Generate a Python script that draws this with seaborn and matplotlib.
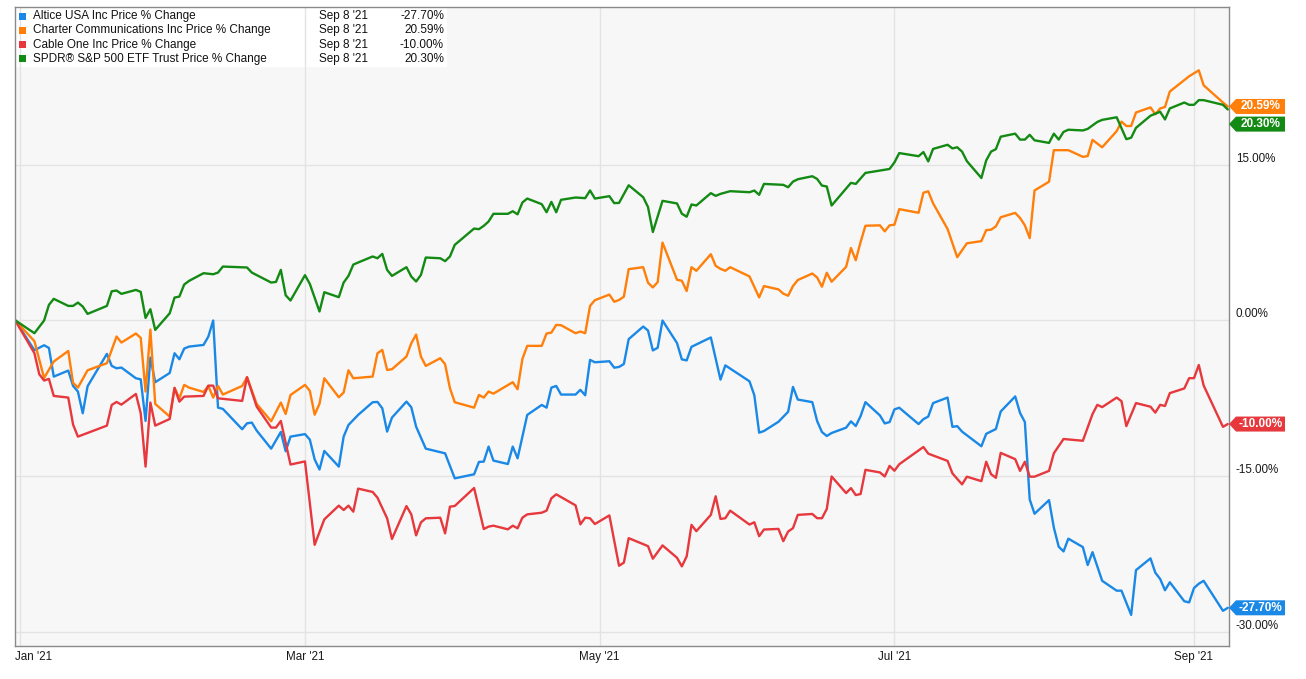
import matplotlib
matplotlib.use("Agg")
import matplotlib.pyplot as plt
import matplotlib.transforms as mtransforms
from matplotlib.patches import Polygon, Rectangle
import pandas as pd
import seaborn as sns

W, H = 1306, 679

names = [
    "Altice USA Inc Price % Change",
    "Charter Communications Inc Price % Change",
    "Cable One Inc Price % Change",
    "SPDR® S&P 500 ETF Trust Price % Change",
]
colors = ["#1a88e6", "#ff7f0a", "#e6383d", "#138a13"]
as_of = "Sep 8 '21"

x_ticks = ["2021-01-01", "2021-03-01", "2021-05-01", "2021-07-01", "2021-09-01"]
x_labels = ["Jan '21", "Mar '21", "May '21", "Jul '21", "Sep '21"]
y_ticks = [-30, -15, 0, 15]

# values, one entry per visible vertex (MM-DD in 2021)
altice_dates = [
    "2020-12-31",
    "01-04", "01-06", "01-07", "01-08", "01-11", "01-12", "01-13", "01-14", "01-15", "01-19", "01-20", "01-21",
    "01-22", "01-25", "01-26", "01-27", "01-28", "01-29",
    "02-01", "02-02", "02-03", "02-04", "02-05", "02-08", "02-09", "02-10", "02-11", "02-12", "02-16", "02-17",
    "02-18", "02-19", "02-22", "02-24", "02-25", "02-26",
    "03-01", "03-02", "03-03", "03-04", "03-05", "03-08", "03-09", "03-10", "03-12", "03-15", "03-16", "03-17",
    "03-18", "03-19", "03-22", "03-23", "03-24", "03-26", "03-30",
    "04-01", "04-05", "04-06", "04-07", "04-08", "04-09", "04-12", "04-13", "04-14", "04-16", "04-19", "04-20",
    "04-21", "04-22", "04-23", "04-26", "04-27", "04-28", "04-29", "04-30",
    "05-03", "05-04", "05-05", "05-06", "05-07", "05-10", "05-11", "05-12", "05-13", "05-14", "05-17", "05-18",
    "05-19", "05-20", "05-24", "05-26", "05-27",
    "06-01", "06-02", "06-03", "06-04", "06-07", "06-09", "06-10", "06-11", "06-14", "06-15", "06-16", "06-17",
    "06-18", "06-21", "06-22", "06-23", "06-24", "06-25", "06-28", "06-29", "06-30",
    "07-01", "07-02", "07-06", "07-07", "07-08", "07-09", "07-12", "07-13", "07-14", "07-15", "07-19", "07-20",
    "07-22", "07-23", "07-26", "07-27", "07-28", "07-29", "07-30",
    "08-02", "08-03", "08-04", "08-05", "08-06", "08-09", "08-10", "08-11", "08-13", "08-16", "08-17", "08-19",
    "08-20", "08-23", "08-24", "08-25", "08-26", "08-27", "08-30", "08-31",
    "09-01", "09-02", "09-03", "09-07", "09-08",
]
altice = [
    0.0,
    -2.89, -2.41, -2.67, -5.43, -4.85, -6.33, -6.87, -8.96, -6.36, -3.24, -4.40, -4.63,
    -4.56, -5.59, -5.69, -9.70, -3.60, -5.97,
    -5.08, -3.18, -3.76, -2.73, -2.54, -2.38, -1.57, -0.03, -8.42, -8.54, -10.50, -9.93,
    -9.86, -10.63, -12.37, -10.76, -12.62, -11.21,
    -10.97, -11.50, -13.40, -14.38, -12.59, -14.10, -11.21, -10.09, -9.12, -7.90, -7.87, -8.48,
    -10.73, -9.38, -7.84, -8.38, -10.25, -12.37, -12.82,
    -15.23, -14.84, -13.65, -13.62, -12.17, -13.52, -13.85, -12.17, -13.30, -9.12, -8.16, -8.42,
    -6.49, -6.33, -7.16, -7.16, -6.71, -7.23, -3.82, -4.05,
    -3.95, -4.57, -4.50, -4.22, -1.82, -0.61, -0.99, -2.91, -2.65, -0.03, -2.20, -3.77,
    -3.87, -2.56, -1.66, -5.72, -4.35,
    -5.88, -7.22, -10.83, -10.67, -9.78, -8.82, -6.42, -7.64, -7.89, -9.71, -10.77, -11.15,
    -10.86, -10.35, -9.74, -10.19, -9.23, -7.89, -9.17, -9.94, -9.81,
    -8.59, -8.43, -10.00, -9.53, -9.28, -7.98, -7.45, -10.27, -10.20, -10.73, -12.14, -10.94,
    -10.48, -8.79, -7.34, -8.93, -9.81, -17.26, -18.64,
    -17.33, -19.98, -21.81, -22.27, -21.04, -21.85, -23.58, -22.34, -25.10, -26.05, -26.05, -28.38,
    -24.07, -22.94, -24.32, -24.92, -26.01, -25.24, -27.07, -27.18,
    -25.80, -25.38, -25.10, -27.99, -27.70,
]

charter_dates = [
    "2020-12-31",
    "01-04", "01-06", "01-08", "01-11", "01-12", "01-13", "01-15", "01-19", "01-21", "01-22", "01-25", "01-26",
    "01-27", "01-28", "01-29",
    "02-01", "02-02", "02-03", "02-04", "02-05", "02-08", "02-09", "02-10", "02-11", "02-12", "02-16", "02-17",
    "02-19", "02-22", "02-24", "02-25", "02-26",
    "03-01", "03-02", "03-03", "03-04", "03-05", "03-08", "03-09", "03-10", "03-11", "03-15", "03-16", "03-17",
    "03-18", "03-19", "03-22", "03-23", "03-24", "03-25", "03-26", "03-29", "03-30", "03-31",
    "04-01", "04-05", "04-06", "04-07", "04-08", "04-09", "04-13", "04-14", "04-15", "04-16", "04-19", "04-20",
    "04-21", "04-22", "04-23", "04-26", "04-27", "04-28", "04-29", "04-30",
    "05-03", "05-04", "05-05", "05-06", "05-07", "05-10", "05-11", "05-12", "05-13", "05-14", "05-17", "05-18",
    "05-19", "05-20", "05-21", "05-24", "05-25", "05-26", "05-27", "05-28",
    "06-01", "06-03", "06-04", "06-07", "06-08", "06-09", "06-10", "06-11", "06-14", "06-15", "06-16", "06-17",
    "06-18", "06-21", "06-22", "06-23", "06-24", "06-25", "06-28", "06-29", "06-30",
    "07-01", "07-02", "07-06", "07-07", "07-08", "07-09", "07-12", "07-14", "07-16", "07-19", "07-20", "07-21",
    "07-22", "07-23", "07-26", "07-27", "07-28", "07-29", "07-30",
    "08-02", "08-03", "08-06", "08-09", "08-10", "08-11", "08-13", "08-16", "08-17", "08-18", "08-19", "08-20",
    "08-23", "08-24", "08-25", "08-26", "08-27", "08-31",
    "09-02", "09-03", "09-07", "09-08",
]
charter = [
    0.0,
    -2.02, -5.56, -3.98, -2.96, -6.04, -6.49, -4.82, -4.14, -1.57, -2.15, -1.28, -1.70,
    -6.87, -0.90, -8.06,
    -9.28, -6.52, -7.52, -6.23, -6.49, -6.91, -6.33, -7.45, -6.33, -7.16, -6.33, -5.49,
    -8.06, -9.73, -7.93, -9.03, -7.20,
    -6.23, -6.80, -9.10, -8.05, -5.59, -7.42, -6.97, -4.82, -5.59, -5.43, -3.18, -2.86,
    -4.79, -4.72, -3.50, -2.22, -1.38, -3.50, -4.40, -3.66, -4.24, -6.55,
    -7.90, -8.42, -7.20, -7.45, -6.87, -7.07, -5.97, -6.65, -3.73, -2.47, -2.47, -1.28,
    -1.19, -0.45, -0.48, -1.25, -1.09, -1.25, 1.38, 1.93,
    2.47, 1.78, 1.95, 2.27, 4.92, 5.11, 3.61, 3.16, 3.67, 7.48, 3.90, 3.80,
    2.81, 5.11, 4.76, 6.36, 5.24, 4.95, 4.76, 5.11,
    4.22, 2.20, 3.29, 2.97, 2.56, 2.36, 3.29, 3.87, 4.50, 4.12, 3.23, 4.57,
    3.71, 5.14, 6.96, 5.78, 7.54, 9.10, 9.14, 8.56, 9.14,
    9.20, 10.70, 10.35, 12.28, 12.42, 11.26, 8.79, 6.07, 7.41, 7.62, 8.68, 8.72,
    9.04, 9.92, 10.34, 9.85, 9.14, 7.91, 12.50,
    13.34, 16.38, 16.38, 15.74, 15.81, 17.37, 16.66, 18.21, 19.13, 18.71, 18.71, 20.01,
    20.50, 19.84, 20.40, 20.54, 22.03, 23.50,
    24.07, 22.63, 20.97, 20.59,
]

cable_dates = [
    "2020-12-31",
    "01-04", "01-05", "01-06", "01-07", "01-08", "01-11", "01-12", "01-13", "01-19", "01-20", "01-21", "01-22",
    "01-25", "01-26", "01-27", "01-28", "01-29",
    "02-01", "02-02", "02-03", "02-04", "02-08", "02-09", "02-10", "02-11", "02-16", "02-17", "02-19", "02-22",
    "02-23", "02-24", "02-26",
    "03-01", "03-03", "03-05", "03-08", "03-09", "03-10", "03-11", "03-12", "03-15", "03-16", "03-18", "03-19",
    "03-22", "03-23", "03-24", "03-25", "03-26", "03-29", "03-30", "03-31",
    "04-01", "04-05", "04-07", "04-08", "04-09", "04-12", "04-13", "04-14", "04-15", "04-16", "04-19", "04-20",
    "04-21", "04-22", "04-26", "04-27", "04-28", "04-29", "04-30",
    "05-03", "05-04", "05-05", "05-06", "05-07", "05-11", "05-12", "05-14", "05-17", "05-18", "05-19", "05-20",
    "05-21", "05-24", "05-25", "05-26", "05-27", "05-28",
    "06-01", "06-02", "06-03", "06-04", "06-07", "06-08", "06-09", "06-10", "06-11", "06-14", "06-15", "06-16",
    "06-17", "06-18", "06-21", "06-22", "06-23", "06-24", "06-25", "06-28", "06-29", "06-30",
    "07-01", "07-02", "07-07", "07-08", "07-12", "07-13", "07-15", "07-16", "07-19", "07-20", "07-21", "07-22",
    "07-23", "07-26", "07-27", "07-28", "07-29", "07-30",
    "08-02", "08-03", "08-05", "08-09", "08-11", "08-12", "08-13", "08-16", "08-17", "08-18", "08-20", "08-23",
    "08-24", "08-25", "08-26", "08-27", "08-30", "08-31",
    "09-01", "09-02", "09-03", "09-07", "09-08",
]
cable_one = [
    0.0,
    -3.18, -5.20, -5.81, -5.65, -7.29, -7.45, -10.05, -11.21, -10.15, -8.16, -7.87, -8.13,
    -7.10, -8.96, -14.10, -7.93, -10.15,
    -9.51, -6.52, -7.84, -7.36, -7.29, -6.30, -6.30, -7.52, -7.77, -5.49, -8.32, -10.34,
    -10.34, -9.70, -13.90,
    -13.60, -21.63, -19.18, -17.86, -18.28, -17.86, -18.44, -16.22, -16.54, -17.09, -19.08, -21.07,
    -17.90, -18.70, -20.72, -19.47, -19.08, -19.02, -20.53, -17.96,
    -17.89, -16.16, -20.11, -19.88, -19.79, -20.14, -19.79, -20.04, -19.02, -18.70, -18.54, -18.34,
    -17.15, -16.77, -17.83, -19.66, -19.02, -19.08, -19.63,
    -18.80, -21.25, -23.65, -23.35, -20.99, -21.76, -22.97, -21.69, -22.88, -23.71, -22.75, -19.71,
    -20.32, -18.75, -16.96, -19.14, -19.07, -18.34,
    -19.68, -19.46, -20.80, -20.16, -20.10, -21.28, -20.35, -20.03, -18.75, -18.66, -19.07, -19.07,
    -18.18, -15.05, -16.65, -16.17, -16.84, -16.74, -14.41, -14.66, -15.05, -14.03,
    -14.50, -13.87, -12.21, -12.85, -13.55, -14.75, -15.81, -15.07, -15.50, -13.63, -14.83, -15.18,
    -12.78, -13.38, -14.51, -13.63, -15.07, -15.07,
    -14.51, -12.81, -11.44, -11.61, -9.04, -8.15, -8.37, -7.45, -7.80, -10.20, -7.98, -8.33,
    -8.90, -8.15, -8.26, -7.02, -6.57, -5.58,
    -5.58, -4.31, -6.28, -10.27, -10.00,
]

spy_dates = [
    "2020-12-31",
    "01-04", "01-06", "01-07", "01-08", "01-11", "01-12", "01-13", "01-14", "01-15", "01-19", "01-20", "01-21",
    "01-22", "01-25", "01-26", "01-27", "01-28", "01-29",
    "02-01", "02-02", "02-03", "02-04", "02-05", "02-08", "02-10", "02-11", "02-12", "02-17", "02-18", "02-22",
    "02-23", "02-24", "02-25", "02-26",
    "03-01", "03-02", "03-04", "03-05", "03-08", "03-09", "03-10", "03-11", "03-12", "03-15", "03-16", "03-17",
    "03-18", "03-19", "03-22", "03-23", "03-24", "03-25", "03-26", "03-29", "03-30", "03-31",
    "04-01", "04-05", "04-06", "04-07", "04-08", "04-09", "04-12", "04-13", "04-14", "04-15", "04-16", "04-19",
    "04-20", "04-21", "04-22", "04-23", "04-26", "04-28", "04-29", "04-30",
    "05-03", "05-04", "05-05", "05-07", "05-10", "05-11", "05-12", "05-14", "05-17", "05-18", "05-19", "05-20",
    "05-21", "05-24", "05-25", "05-26", "05-27", "05-28",
    "06-01", "06-02", "06-03", "06-04", "06-08", "06-09", "06-10", "06-11", "06-14", "06-15", "06-16", "06-17",
    "06-18", "06-22", "06-23", "06-25", "06-30",
    "07-01", "07-02", "07-06", "07-07", "07-08", "07-09", "07-12", "07-13", "07-14", "07-15", "07-16", "07-19",
    "07-20", "07-21", "07-22", "07-23", "07-26", "07-27", "07-28", "07-29", "07-30",
    "08-02", "08-03", "08-04", "08-05", "08-06", "08-09", "08-10", "08-12", "08-13", "08-16", "08-17", "08-18",
    "08-19", "08-20", "08-23", "08-25", "08-26", "08-27", "08-30", "08-31",
    "09-01", "09-02", "09-03", "09-07", "09-08",
]
spy = [
    0.0,
    -1.25, -0.03, 1.48, 2.06, 1.38, 1.38, 1.70, 1.32, 0.61, 1.38, 2.79, 2.86,
    2.54, 2.92, 2.73, 0.22, 1.06, -0.93,
    0.67, 2.18, 2.28, 3.44, 3.79, 4.53, 4.43, 4.59, 5.17, 5.08, 4.59, 3.63,
    3.69, 4.85, 2.41, 1.90,
    4.34, 3.50, 0.84, 2.70, 2.22, 3.63, 4.27, 5.36, 5.56, 6.14, 5.97, 6.39,
    4.85, 4.27, 5.11, 4.21, 3.73, 4.37, 6.04, 5.97, 5.69, 6.14,
    7.26, 8.83, 8.77, 9.09, 9.51, 10.25, 10.25, 10.50, 10.20, 11.34, 11.72, 11.18,
    10.40, 11.40, 10.40, 11.60, 11.82, 11.76, 12.50, 11.72,
    11.95, 11.28, 11.30, 13.00, 11.85, 10.90, 8.50, 11.50, 11.25, 10.26, 9.97, 11.15,
    11.05, 12.24, 11.98, 12.17, 12.30, 12.43,
    12.33, 12.49, 12.08, 13.13, 13.04, 12.81, 13.35, 13.58, 13.87, 13.61, 12.97, 12.88,
    11.05, 13.23, 13.13, 14.19, 14.57,
    15.20, 16.10, 15.80, 16.20, 15.30, 16.50, 16.90, 16.55, 16.66, 16.24, 15.32, 13.70,
    15.40, 16.24, 16.48, 17.68, 17.97, 17.40, 17.40, 17.86, 17.33,
    17.08, 17.97, 17.40, 18.14, 18.35, 18.28, 18.43, 19.10, 19.30, 19.55, 18.50, 17.44,
    17.58, 18.53, 19.70, 20.08, 19.34, 20.40, 20.97, 20.75,
    20.75, 21.20, 21.20, 20.75, 20.30,
]


def to_dates(days):
    return pd.to_datetime([d if len(d) > 5 else "2021-" + d for d in days])


def px(x, y):
    # pixel position (from top-left of the image) to figure fraction
    return x / W, 1 - y / H


series = [(altice_dates, altice), (charter_dates, charter), (cable_dates, cable_one), (spy_dates, spy)]
frames = []
for name, (d, v) in zip(names, series):
    frames.append(pd.DataFrame({"date": to_dates(d), "change": v, "series": name}))
df = pd.concat(frames, ignore_index=True)

sns.set_style("white")
plt.rcParams["font.family"] = ["Liberation Sans", "DejaVu Sans"]

fig, ax = plt.subplots(figsize=(W / 100, H / 100), dpi=100)
fig.subplots_adjust(left=14.5 / W, right=1229 / W, top=1 - 6.7 / H, bottom=1 - 645.7 / H)
ax.set_facecolor("#f7f7f7")

sns.lineplot(data=df, x="date", y="change", hue="series", hue_order=names,
             palette=dict(zip(names, colors)), estimator=None, linewidth=1.7,
             legend=False, ax=ax)

ax.set_xlim(pd.Timestamp("2020-12-30 21:00"), pd.Timestamp("2021-09-08 06:00"))
ax.set_ylim(-31.35, 30.2)
ax.set_xlabel("")
ax.set_ylabel("")
ax.set_axisbelow(True)
ax.grid(True, color="#e3e3e3", linewidth=1)
for s in ax.spines.values():
    s.set_color("#8a8a8a")
    s.set_linewidth(1)

ax.set_xticks(pd.to_datetime(x_ticks))
ax.set_xticklabels(x_labels)
ax.yaxis.tick_right()
ax.set_yticks(y_ticks)
ax.set_yticklabels([f"{v:.2f}%" for v in y_ticks])
ax.tick_params(axis="x", length=0, pad=3.6, labelsize=8.4, labelcolor="#1a1a1a")
ax.tick_params(axis="y", length=0, pad=5, labelsize=8.4, labelcolor="#1a1a1a")
for lbl in ax.get_yticklabels():
    lbl.set_verticalalignment("bottom")
first = ax.get_xticklabels()[0]
first.set_horizontalalignment("left")
first.set_transform(first.get_transform() + mtransforms.ScaledTranslation(-5 / 100, 0, fig.dpi_scale_trans))

# legend panel in the top-left corner
ax.add_patch(Rectangle(px(14.5, 67), (447 - 14.5) / W, (67 - 6.7) / H, transform=fig.transFigure,
                       facecolor="white", edgecolor="none", zorder=0.2))
for i, (name, color, (d, v)) in enumerate(zip(names, colors, series)):
    yc = 16.2 + 14.2 * i
    fig.add_artist(Rectangle(px(19.3, yc + 3.5), 7 / W, 7 / H, transform=fig.transFigure,
                             facecolor=color, edgecolor="none"))
    fig.text(*px(33, yc), name, ha="left", va="center", fontsize=8.5, color="#111111")
    fig.text(*px(319, yc), as_of, ha="left", va="center", fontsize=8.5, color="#111111")
    fig.text(*px(444, yc), f"{v[-1]:.2f}%", ha="right", va="center", fontsize=8.5, color="#111111")

# last-value tags on the right axis, nudged apart when they collide
order = sorted(range(len(series)), key=lambda i: -series[i][1][-1])
prev = None
for i in order:
    val = series[i][1][-1]
    pos = val if prev is None else min(val, prev - 1.7)
    prev = pos
    anchor = mtransforms.ScaledTranslation(1.0, pos, ax.get_yaxis_transform())
    verts = [(0, 0), (7, 7.5), (56, 7.5), (56, -7.5), (7, -7.5)]
    fig.add_artist(Polygon(verts, closed=True, transform=anchor, facecolor=colors[i],
                           edgecolor="none", zorder=5))
    fig.text(31.5, 0, f"{val:.2f}%", transform=anchor, ha="center", va="center",
             fontsize=8.5, fontweight="bold", color="white", zorder=6)

fig.savefig("out.png", dpi=100)
